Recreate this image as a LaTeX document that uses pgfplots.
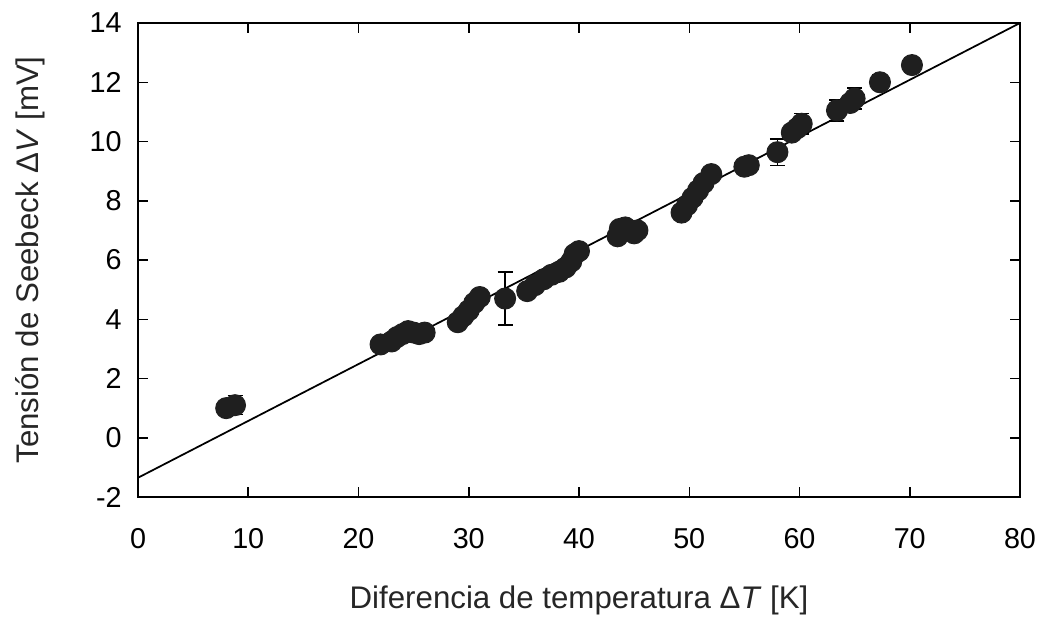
\documentclass[border=0pt]{standalone}
\usepackage{fontspec}
\setmainfont{Liberation Sans}
\usepackage{pgfplots}
\pgfplotsset{compat=1.18}

\begin{document}
\begin{tikzpicture}
\begin{axis}[
    name=ax,
    scale only axis,
    width=352.8pt, height=189.6pt,
    xmin=0, xmax=80, ymin=-2, ymax=14,
    xtick={0,10,...,80}, ytick={-2,0,...,14},
    tick align=inside, major tick length=4pt,
    axis line style={line width=0.8pt},
    every tick/.style={black, line width=0.6pt},
    /pgf/number format/assume math mode=true,
    tick label style={font=\fontsize{11.5}{13}\selectfont},
    xticklabel style={yshift=-9pt},
    yticklabel style={xshift=-3pt},
    label style={font=\fontsize{12.5}{14}\selectfont, color=black!85},
    xlabel={Diferencia de temperatura Δ\textit{T} [K]},
    ylabel={Tensión de Seebeck Δ\textit{V} [mV]},
    xlabel style={yshift=-8pt},
    ylabel style={yshift=11pt},
    clip=false,
]
% linear fit
\addplot[black, line width=0.7pt] coordinates {(0,-1.35) (80,14)};
% measured points: dT [K], dV [mV], error [mV]
\addplot[only marks, mark=*, mark size=4.2pt, black!88,
         mark options={draw=black!88, fill=black!88},
         error bars/.cd, y dir=both, y explicit,
         error bar style={black, line width=0.6pt},
         error mark options={black, mark size=3pt, rotate=90, line width=0.6pt}]
  table[x=x, y=y, y error=e] {
x     y     e
8.0   1.00  0
8.8   1.10  0.32
22.0  3.15  0
23.0  3.25  0
23.5  3.40  0
24.0  3.50  0
24.5  3.60  0
25.0  3.55  0
25.5  3.50  0
26.0  3.55  0
29.0  3.90  0
29.5  4.10  0
30.0  4.30  0
30.5  4.55  0
31.0  4.75  0
33.3  4.70  0.90
35.3  4.95  0
36.0  5.15  0
36.8  5.35  0
37.5  5.50  0
38.2  5.60  0
38.8  5.75  0
39.3  5.95  0
39.6  6.20  0
40.0  6.30  0
43.5  6.80  0
43.7  7.05  0
44.2  7.10  0
45.0  6.90  0
45.3  7.00  0
49.3  7.60  0
49.8  7.85  0
50.3  8.10  0
50.8  8.35  0
51.3  8.60  0
52.0  8.90  0
55.0  9.15  0
55.4  9.20  0
58.0  9.64  0.45
59.3  10.30 0
59.8  10.45 0
60.2  10.60 0.35
63.4  11.05 0.35
64.6  11.30 0
65.0  11.45 0.35
67.3  12.00 0.25
70.2  12.58 0
};
\end{axis}
\path (ax.south west) ++(-55.2pt,-54pt);
\path (ax.north east) ++(11.6pt,9.2pt);
\end{tikzpicture}
\end{document}
